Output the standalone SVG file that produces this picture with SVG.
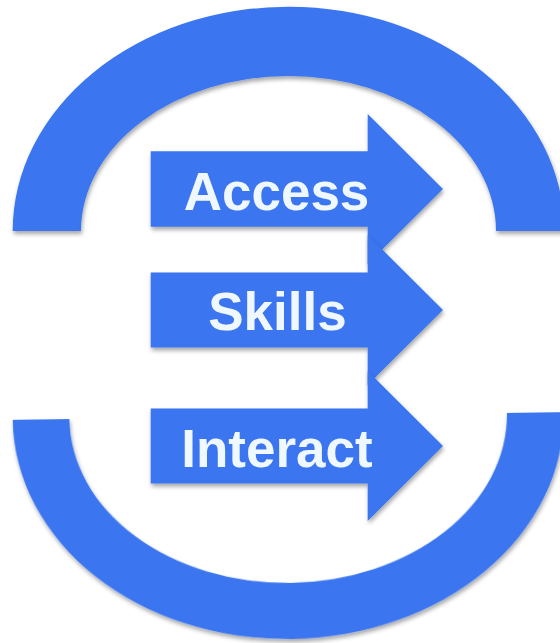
<svg xmlns="http://www.w3.org/2000/svg" width="560" height="643" viewBox="0 0 560 643">
  <defs>
    <filter id="sh" x="-10%" y="-10%" width="120%" height="125%">
      <feDropShadow dx="1" dy="3" stdDeviation="2" flood-color="#000" flood-opacity="0.35"/>
    </filter>
  </defs>
  <style>
    .band { fill: #3A75EF; filter: url(#sh); }
    .arrow { fill: #3A75EF; filter: url(#sh); }
    .label { font-family: "Liberation Sans", Arial, sans-serif; font-weight: bold; font-size: 53px; fill: #F0F8FF; text-anchor: middle; }
  </style>
  <rect width="560" height="643" fill="#ffffff"/>
  <g id="connectors">
    <path class="band" d="M12.7,231 A275.8,224.3 0 0 1 564.3,231 L496,231 A207.5,155 0 0 0 81,231 Z"/>
    <path class="band" transform="rotate(-0.8 288 416)" d="M12.7,416 A275.5,223 0 0 0 563.7,416 L507,416 A218.8,167 0 0 1 69.4,416 Z"/>
  </g>
  <g id="access">
    <polygon class="arrow" points="150.7,151.2 367.7,151.2 367.7,114 443,189 367.7,264 367.7,226.8 150.7,226.8"/>
    <text class="label" x="276.5" y="209.5">Access</text>
  </g>
  <g id="skills">
    <polygon class="arrow" points="150.7,272.5 367.7,272.5 367.7,235 443,310 367.7,385 367.7,347.5 150.7,347.5"/>
    <text class="label" x="277.5" y="330">Skills</text>
  </g>
  <g id="interact">
    <polygon class="arrow" points="150.7,408.5 367.7,408.5 367.7,371 443,446 367.7,521 367.7,483.5 150.7,483.5"/>
    <text class="label" x="277" y="466.5">Interact</text>
  </g>
</svg>
